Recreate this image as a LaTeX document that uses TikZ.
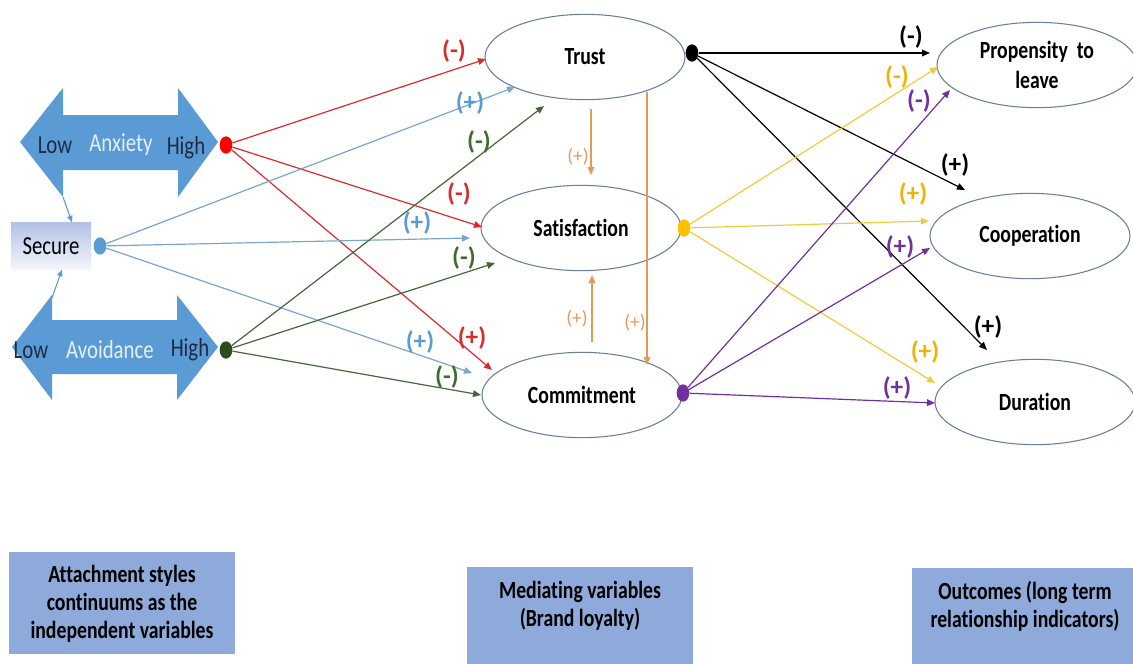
\documentclass[tikz,border=0pt]{standalone}
\usepackage{fontspec}
\setmainfont[FakeStretch=0.8, Ligatures=NoCommon]{Carlito}
\newfontfamily\signfont[Ligatures=NoCommon]{Carlito}
\usetikzlibrary{shapes.geometric,arrows.meta}

\definecolor{shapeblue}{HTML}{5B9BD5}
\definecolor{darkword}{HTML}{1F2A44}
\definecolor{lightword}{HTML}{E8EEF8}
\definecolor{ellline}{HTML}{6A7F99}
\definecolor{legendfill}{HTML}{8EAADB}
\definecolor{securetop}{HTML}{B3C1E6}
\definecolor{securebot}{HTML}{F4F6FC}
\definecolor{redline}{HTML}{D92B2B}
\definecolor{reddot}{HTML}{FF0000}
\definecolor{blueline}{HTML}{78A6CE}
\definecolor{greenline}{HTML}{46653A}
\definecolor{greendot}{HTML}{2E4D1E}
\definecolor{greenlabel}{HTML}{3E6B2E}
\definecolor{orangeline}{HTML}{E39A57}
\definecolor{yellowline}{HTML}{F2CB3A}
\definecolor{yellowdot}{HTML}{FFC000}
\definecolor{yellowlabel}{HTML}{F0B400}
\definecolor{purpleline}{HTML}{7030A0}

\tikzset{
  mediator/.style={ellipse, draw=ellline, line width=0.8pt, minimum width=150pt,
    minimum height=64pt, inner sep=0pt, align=center,
    font=\bfseries\fontsize{18.5}{22.5}\selectfont},
  dot/.style={ellipse, minimum width=9.5pt, minimum height=13pt, inner sep=0pt},
  link/.style={line width=0.9pt, -{Triangle[length=6pt,width=5pt]}},
  sign/.style={inner sep=0pt, font=\signfont\bfseries\fontsize{19}{20}\selectfont},
  smallsign/.style={inner sep=0pt, text=orangeline, font=\signfont\fontsize{14.5}{16}\selectfont},
  word/.style={inner sep=0pt, font=\fontsize{19.5}{22}\selectfont},
  legend/.style={fill=legendfill, minimum width=169pt, minimum height=77pt, inner sep=0pt},
  legendtext/.style={inner sep=0pt, align=center, font=\bfseries\fontsize{18.5}{21}\selectfont},
}

\begin{document}
\begin{tikzpicture}[x=0.75pt, y=-0.75pt]
\useasboundingbox (0,0) rectangle (1133,664);

% ---- attachment continuums (double-headed block arrows)
\fill[shapeblue] (20,142) -- (63,88) -- (63,115) -- (178,115) -- (178,88) -- (218,142)
  -- (178,197) -- (178,170) -- (63,170) -- (63,197) -- cycle;
\fill[shapeblue] (12,347) -- (52,295) -- (52,320) -- (177,320) -- (177,295) -- (218,347)
  -- (177,400) -- (177,374) -- (52,374) -- (52,400) -- cycle;

\node[word, text=darkword]  (anxlow)  at (55,145)  {Low};
\node[word, text=lightword] (anxname) at (121,145) {Anxiety};
\node[word, text=darkword]  (anxhigh) at (186,148) {High};
\node[word, text=darkword]  (avolow)  at (31,350)  {Low};
\node[word, text=lightword] (avoname) at (110,350) {Avoidance};
\node[word, text=darkword]  (avohigh) at (190,350) {High};

\node[draw=none, top color=securetop, bottom color=securebot, minimum width=60pt,
  minimum height=35pt, inner sep=0pt, word] (secure) at (51,246) {Secure};

\coordinate (anxfoot) at (63,197);
\coordinate (avohead) at (52,298);
\draw[shapeblue, line width=0.8pt, -{Triangle[length=5pt,width=4pt]}] (anxfoot) -- (secure.north west -| 72,0);
\draw[shapeblue, line width=0.8pt, -{Triangle[length=5pt,width=4pt]}] (avohead) -- (secure.south west -| 62,0);

% ---- predictor dots
\node[dot, fill=reddot]    (anx) at (226,145) {};
\node[dot, fill=shapeblue] (sec) at (100,246) {};
\node[dot, fill=greendot]  (avo) at (226,350) {};

% ---- mediators
\node[mediator] (trust) at (585,57)  {Trust};
\node[mediator] (sat)   at (581,228) {Satisfaction};
\node[mediator] (com)   at (582,395) {Commitment};

% ---- outcomes
\node[mediator] (leave) at (1037,65)  {Propensity\ \ to\\leave};
\node[mediator] (coop)  at (1030,236) {Cooperation};
\node[mediator] (dur)   at (1035,402) {Duration};

% ---- mediator dots
\node[dot, fill=black]       (tdot) at (692,53)  {};
\node[dot, fill=yellowdot]   (sdot) at (684,228) {};
\node[dot, fill=purpleline]  (cdot) at (683,393) {};

% ---- arrow end points
\coordinate (redT) at (486,59);
\coordinate (redS) at (482,227);
\coordinate (redC) at (492,370);
\coordinate (bluT) at (515,87);
\coordinate (bluS) at (470,238);
\coordinate (bluC) at (472,373);
\coordinate (grnT) at (544,106);
\coordinate (grnS) at (495,263);
\coordinate (grnC) at (481,395);
\coordinate (blkL) at (930,53);
\coordinate (blkK) at (965,190);
\coordinate (blkD) at (987,350);
\coordinate (yelL) at (938,67);
\coordinate (yelK) at (929,221);
\coordinate (yelD) at (935,383);
\coordinate (purL) at (950,90);
\coordinate (purK) at (930,248);
\coordinate (purD) at (935,403);
\coordinate (tsA) at (591,109);
\coordinate (tsB) at (591,175);
\coordinate (csA) at (592,342);
\coordinate (csB) at (592,275);
\coordinate (tcA) at (647,92);
\coordinate (tcB) at (647,365);

% ---- predictors to mediators
\draw[link, redline] (anx) -- (redT);
\draw[link, redline] (anx) -- (redS);
\draw[link, redline] (anx) -- (redC);
\draw[link, blueline] (sec) -- (bluT);
\draw[link, blueline] (sec) -- (bluS);
\draw[link, blueline] (sec) -- (bluC);
\draw[link, greenline] (avo) -- (grnT);
\draw[link, greenline] (avo) -- (grnS);
\draw[link, greenline] (avo) -- (grnC);

% ---- links among mediators
\draw[link, orangeline] (tsA) -- (tsB);
\draw[link, orangeline] (csA) -- (csB);
\draw[link, orangeline] (tcA) -- (tcB);

% ---- mediators to outcomes
\draw[link, black] (tdot) -- (blkL);
\draw[link, black] (tdot) -- (blkK);
\draw[link, black] (tdot) -- (blkD);
\draw[link, yellowline] (sdot) -- (yelL);
\draw[link, yellowline] (sdot) -- (yelK);
\draw[link, yellowline] (sdot) -- (yelD);
\draw[link, purpleline] (cdot) -- (purL);
\draw[link, purpleline] (cdot) -- (purK);
\draw[link, purpleline] (cdot) -- (purD);

% ---- signs
\node[sign, text=redline]    (s1) at (454,51)  {(-)};
\node[sign, text=redline]    (s2) at (459,194) {(-)};
\node[sign, text=redline]    (s3) at (472,338) {(+)};
\node[sign, text=shapeblue]  (s4) at (470,103) {(+)};
\node[sign, text=shapeblue]  (s5) at (417,223) {(+)};
\node[sign, text=shapeblue]  (s6) at (420,342) {(+)};
\node[sign, text=greenlabel] (s7) at (479,142) {(-)};
\node[sign, text=greenlabel] (s8) at (464,258) {(-)};
\node[sign, text=greenlabel] (s9) at (447,377) {(-)};

\node[smallsign] (o1) at (578,157) {(+)};
\node[smallsign] (o2) at (577,319) {(+)};
\node[smallsign] (o3) at (635,323) {(+)};

\node[sign, text=black]       (r1) at (911,37)  {(-)};
\node[sign, text=yellowlabel] (r2) at (897,77)  {(-)};
\node[sign, text=purpleline]  (r3) at (919,101) {(-)};
\node[sign, text=black]       (r4) at (955,165) {(+)};
\node[sign, text=yellowlabel] (r5) at (913,194) {(+)};
\node[sign, text=purpleline]  (r6) at (900,247) {(+)};
\node[sign, text=black]       (r7) at (988,327) {(+)};
\node[sign, text=yellowlabel] (r8) at (925,352) {(+)};
\node[sign, text=purpleline]  (r9) at (897,388) {(+)};

% ---- column legends
\node[legend] (leg1) at (122,603) {};
\node[legend] (leg2) at (580,618) {};
\node[legend] (leg3) at (1025,619) {};
\node[legendtext] (leg1t) at (122,604) {Attachment styles\\continuums as the\\independent variables};
\node[legendtext] (leg2t) at (580,606) {Mediating variables\\(Brand loyalty)};
\node[legendtext] (leg3t) at (1025,606) {Outcomes (long term\\relationship indicators)};
\end{tikzpicture}
\end{document}
